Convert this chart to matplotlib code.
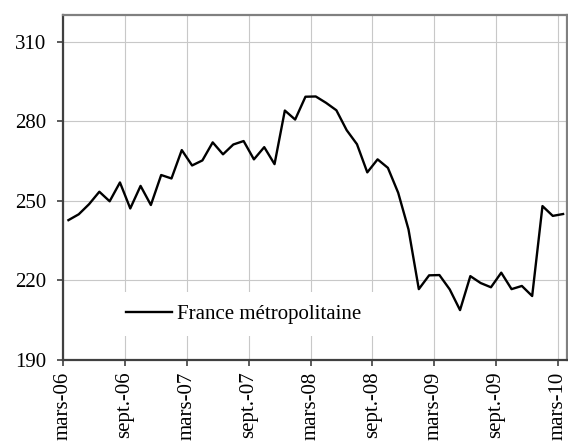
import numpy as np
import matplotlib
matplotlib.use("Agg")
import matplotlib.pyplot as plt

plt.rcParams['font.family'] = ['Liberation Serif', 'DejaVu Serif']

# monthly index, mars 2006 -> mars 2010
serie = "France métropolitaine"
valeurs = [242.7, 244.9, 248.7, 253.4, 249.8, 256.9, 247.1, 255.6, 248.4, 259.7,
           258.4, 269.1, 263.3, 265.2, 272.0, 267.5, 271.2, 272.5, 265.6, 270.2,
           263.8, 284.0, 280.6, 289.2, 289.3, 286.9, 284.1, 276.6, 271.3, 260.7,
           265.6, 262.4, 253.0, 239.2, 216.7, 221.9, 222.0, 216.6, 208.8, 221.6,
           219.0, 217.4, 222.9, 216.7, 217.9, 214.1, 248.0, 244.3, 245.0]
etiquettes = ["mars-06", "sept.-06", "mars-07", "sept.-07", "mars-08",
              "sept.-08", "mars-09", "sept.-09", "mars-10"]
yticks = [190, 220, 250, 280, 310]

x = np.arange(len(valeurs))

fig = plt.figure(figsize=(5.68, 4.41), dpi=100)
ax = fig.add_axes([0.1114, 0.1837, 0.8863, 0.7823])

ax.plot(x, valeurs, color='black', lw=1.7, label=serie, zorder=3)

ax.set_xlim(-0.5, 48.35)
ax.set_ylim(190, 320)
ax.set_xticks(np.arange(len(etiquettes)) * 6 - 0.5)
ax.set_xticklabels(etiquettes, rotation=90, fontsize=15)
ax.set_yticks(yticks)
ax.set_yticklabels([str(v) for v in yticks], fontsize=15)

ax.grid(True, color='#c8c8c8', lw=0.8, zorder=0)
ax.set_axisbelow(True)

ax.tick_params(axis='y', length=4.3, width=1.2, color='#404040', pad=8)
ax.tick_params(axis='x', length=4.3, width=1.2, color='#404040', pad=4)

for s in ['left', 'bottom']:
    ax.spines[s].set_color('#404040')
    ax.spines[s].set_linewidth(1.6)
for s in ['top', 'right']:
    ax.spines[s].set_color('#808080')
    ax.spines[s].set_linewidth(1.6)

leg = ax.legend(loc='center', bbox_to_anchor=(0.3588, 0.1333), fontsize=15,
                frameon=True, fancybox=False, borderpad=0.6,
                handlelength=2.2, handletextpad=0.25)
leg.get_frame().set_facecolor('white')
leg.get_frame().set_edgecolor('none')
leg.get_frame().set_alpha(1)

fig.savefig("out.png", dpi=100)
